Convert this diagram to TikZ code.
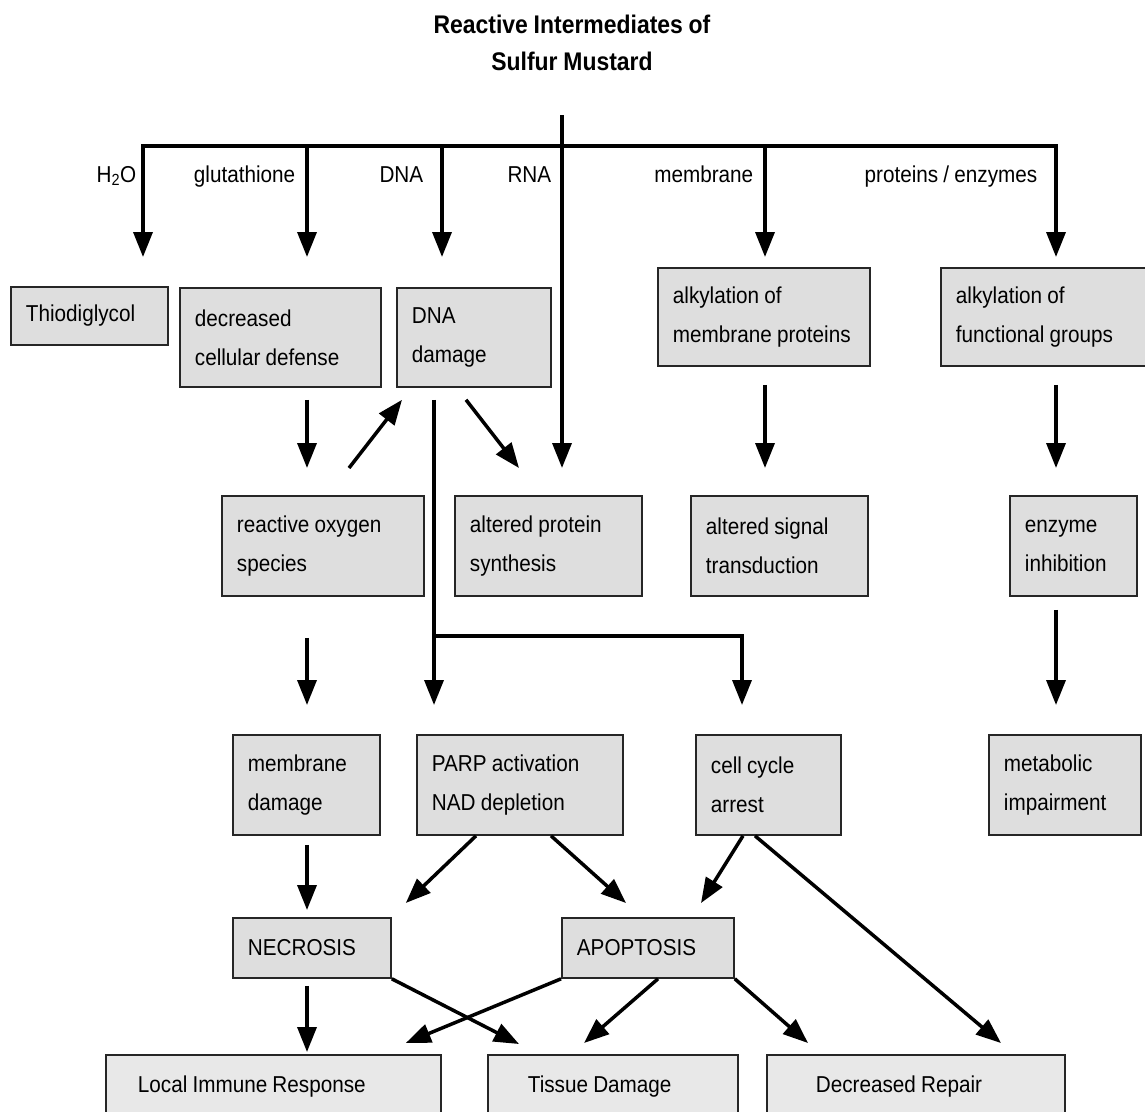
\documentclass[tikz,border=0pt]{standalone}
\usepackage{fontspec}
\usetikzlibrary{arrows.meta, positioning}
\newfontfamily\labelfont{Liberation Sans}[FakeStretch=0.9, WordSpace=0.9]
\def\boxsize{\fontsize{23}{39}\selectfont}

\begin{document}
\begin{tikzpicture}[x=1pt, y=1pt, >={Triangle[length=25pt,width=19pt]}, line width=3.5pt]
    \tikzstyle{box}=[draw=black!85, fill=black!13, line width=1.8pt, anchor=north west, align=flush left, inner xsep=15pt, inner ysep=0pt, font=\labelfont\boxsize]
    \tikzstyle{wide box}=[box, fill=black!9]
    \tikzstyle{lbl}=[anchor=base east, inner sep=0pt, font=\labelfont\boxsize]
    \tikzstyle{arr}=[->]

    \clip (0,0) rectangle (1145,-1111);

    % title and the bus
    \node[font=\labelfont\bfseries\fontsize{25.5}{37}\selectfont, align=center] (title) at (572,-42.5) {Reactive Intermediates of\\Sulfur Mustard};
    \coordinate (stem) at (562,-115);
    \coordinate (bus-L) at (143,-146);
    \coordinate (bus-B) at (307,-146);
    \coordinate (bus-C) at (442,-146);
    \coordinate (bus-E) at (765,-146);
    \coordinate (bus-R) at (1056,-146);
    \draw[line cap=rect] (bus-L) -- (bus-R);

    \node[lbl] (l-h2o) at (138,-182) {H\textsubscript{2}O};
    \node[lbl] (l-glut) at (297,-182) {glutathione};
    \node[lbl] (l-dna) at (425,-182) {DNA};
    \node[lbl] (l-rna) at (553,-182) {RNA};
    \node[lbl] (l-mem) at (755,-182) {membrane};
    \node[lbl] (l-prot) at (1039,-182) {proteins / enzymes};

    % first row
    \node[box, text width=127pt, minimum height=58pt] (thio) at (10,-286) {Thiodiglycol};
    \node[box, text width=171pt, minimum height=99pt] (defense) at (179,-287) {decreased\\cellular defense};
    \node[box, text width=124pt, minimum height=99pt] (dna) at (396,-287) {DNA\\damage};
    \node[box, text width=182pt, minimum height=98pt] (memalk) at (657,-267) {alkylation of\\membrane proteins};
    \node[box, text width=180pt, minimum height=98pt] (funcalk) at (940,-267) {alkylation of\\functional groups};

    % second row
    \node[box, text width=172pt, minimum height=100pt] (ros) at (221,-495) {reactive oxygen\\species};
    \node[box, text width=157pt, minimum height=100pt] (protsyn) at (454,-495) {altered protein\\synthesis};
    \node[box, text width=147pt, minimum height=100pt] (signal) at (690,-495) {altered signal\\transduction};
    \node[box, text width=97pt, minimum height=100pt] (enzyme) at (1009,-495) {enzyme\\inhibition};

    % third row
    \node[box, text width=117pt, minimum height=100pt] (memdam) at (232,-734) {membrane\\damage};
    \node[box, text width=176pt, minimum height=100pt] (parp) at (416,-734) {PARP activation\\NAD depletion};
    \node[box, text width=115pt, minimum height=100pt] (cycle) at (695,-734) {cell cycle\\arrest};
    \node[box, text width=122pt, minimum height=100pt] (metab) at (988,-734) {metabolic\\impairment};

    % cell death
    \node[box, text width=128pt, minimum height=60pt] (necrosis) at (232,-917) {NECROSIS};
    \node[box, text width=142pt, minimum height=60pt] (apoptosis) at (561,-917) {APOPTOSIS};

    % outcomes
    \node[wide box, inner xsep=32pt, text width=271pt, minimum height=64pt] (immune) at (105,-1054) {Local Immune Response};
    \node[wide box, inner xsep=40pt, text width=170pt, minimum height=64pt] (tissue) at (487,-1054) {Tissue Damage};
    \node[wide box, inner xsep=49pt, text width=200pt, minimum height=64pt] (repair) at (766,-1054) {Decreased Repair};

    % arrows off the bus
    \foreach \src/\dest/\gap in {bus-L/thio/29pt, bus-B/defense/30pt, bus-C/dna/30pt, stem/protsyn/27pt, bus-E/memalk/10pt, bus-R/funcalk/10pt}
        \draw[arr, shorten >=\gap] (\src) -- (\dest.north -| \src);

    % straight arrows between boxes
    \foreach \col/\src/\dest/\a/\b in {bus-B/defense/ros/12pt/27pt, bus-B/ros/memdam/41pt/29pt, bus-B/memdam/necrosis/9pt/7pt, bus-B/necrosis/immune/7pt/2pt, bus-E/memalk/signal/18pt/27pt, bus-R/funcalk/enzyme/18pt/27pt, bus-R/enzyme/metab/13pt/29pt}
        \draw[arr, shorten <=\a, shorten >=\b] (\src.south -| \col) -- (\dest.north -| \col);

    % DNA damage branch
    \coordinate (split) at (434,-636);
    \draw[arr, shorten <=12pt, shorten >=29pt] (dna.south -| split) -- (parp.north -| split);
    \draw[arr, shorten >=29pt] (split) -| ([xshift=47pt]cycle.north west);

    % slanted arrows
    \draw[arr] ([shift={(128pt,27pt)}]ros.north west) -- ([shift={(6pt,-12pt)}]dna.south west);
    \draw[arr] ([shift={(70pt,-12pt)}]dna.south west) -- ([shift={(65pt,27pt)}]protsyn.north west);
    \draw[arr] ([xshift=60pt]parp.south west) -- ([shift={(14pt,14pt)}]necrosis.north east);
    \draw[arr] ([xshift=135pt]parp.south west) -- ([shift={(65pt,14pt)}]apoptosis.north west);
    \draw[arr] ([xshift=48pt]cycle.south west) -- ([shift={(140pt,14pt)}]apoptosis.north west);
    \draw[arr] ([xshift=60pt]cycle.south west) -- ([shift={(235pt,11pt)}]repair.north west);
    \draw[arr] (necrosis.south east) -- ([shift={(32pt,10pt)}]tissue.north west);
    \draw[arr] (apoptosis.south west) -- ([shift={(-36pt,11pt)}]immune.north east);
    \draw[arr] ([xshift=97pt]apoptosis.south west) -- ([shift={(97pt,11pt)}]tissue.north west);
    \draw[arr] (apoptosis.south east) -- ([shift={(42pt,11pt)}]repair.north west);
\end{tikzpicture}
\end{document}
